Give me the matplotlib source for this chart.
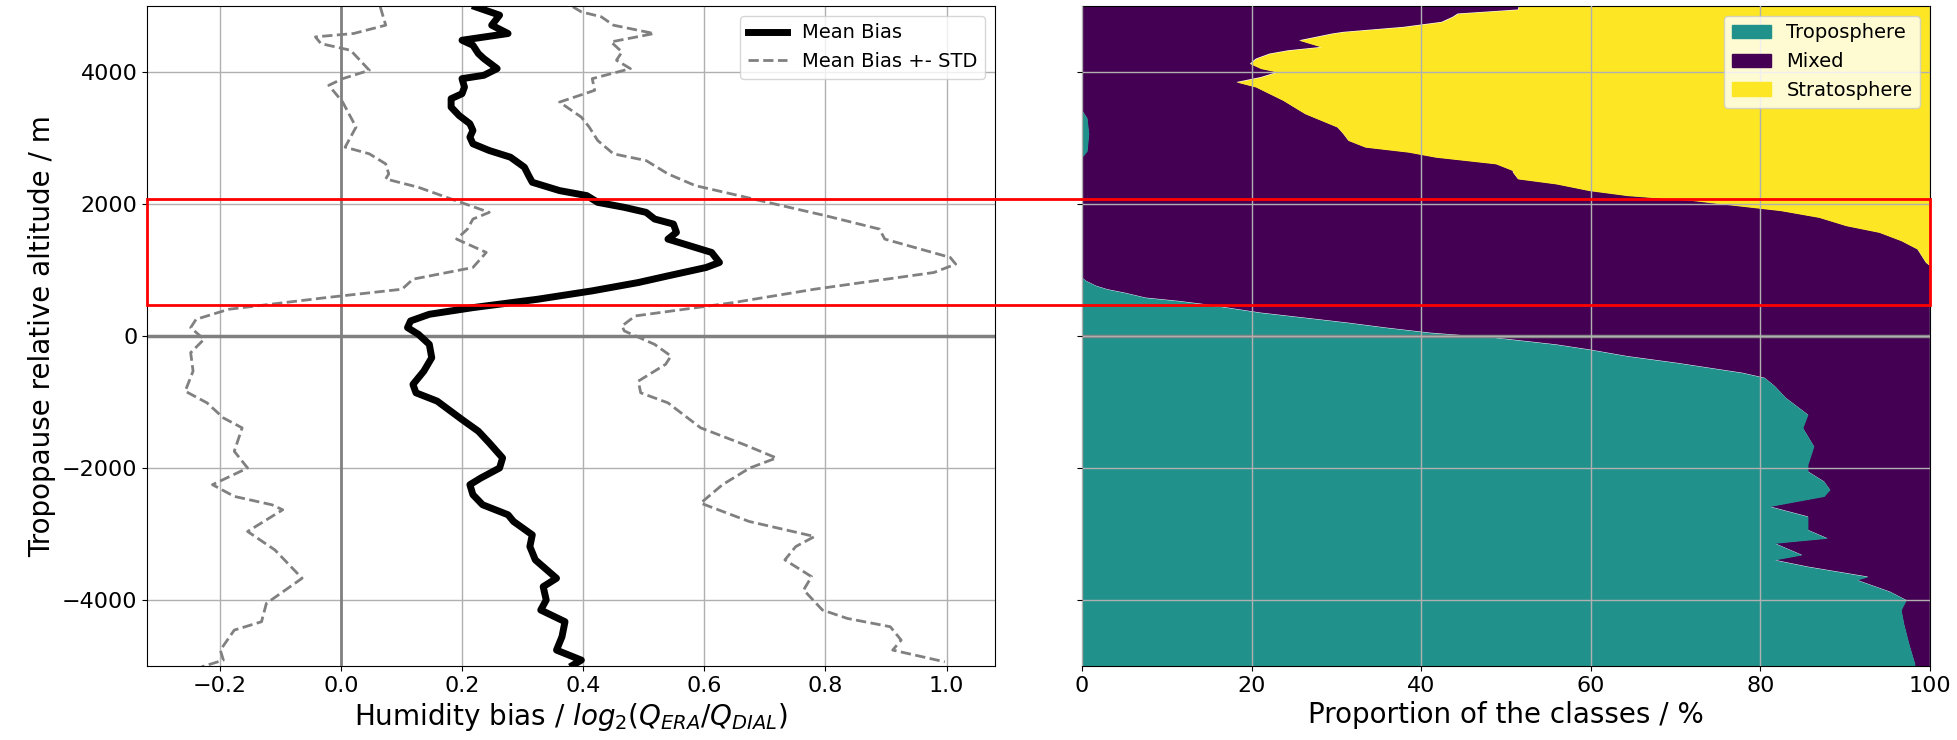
import numpy as np
import matplotlib
matplotlib.use('Agg')
import matplotlib.pyplot as plt
from matplotlib.patches import Rectangle, Patch
from matplotlib.transforms import blended_transform_factory

# mean humidity bias profile (altitude relative to tropopause, m)
mean_alt = [4988, 4861, 4709, 4583, 4481, 4405, 4279, 4203, 4051, 3950, 3899, 3772, 3671,
            3595, 3468, 3342, 3216, 3114, 3013, 2912, 2810, 2709, 2557, 2430, 2329, 2203,
            2127, 2025, 1949, 1873, 1772, 1696, 1570, 1468, 1367, 1266, 1114, 1038, 911,
            810, 684, 557, 430, 329, 228, 127, 25, -76, -127, -329, -532, -734, -861, -987,
            -1266, -1443, -1620, -1848, -2000, -2152, -2253, -2405, -2557, -2709, -2810,
            -3013, -3190, -3392, -3671, -3798, -4000, -4152, -4329, -4557, -4759, -4911, -4987]
mean_bias = [0.222, 0.262, 0.249, 0.276, 0.200, 0.218, 0.227, 0.236, 0.258, 0.236, 0.200,
             0.204, 0.200, 0.182, 0.182, 0.195, 0.213, 0.218, 0.213, 0.218, 0.245, 0.280,
             0.303, 0.310, 0.316, 0.361, 0.406, 0.424, 0.468, 0.504, 0.518, 0.549, 0.554,
             0.540, 0.576, 0.612, 0.625, 0.603, 0.540, 0.491, 0.415, 0.325, 0.218, 0.146,
             0.115, 0.110, 0.128, 0.140, 0.146, 0.150, 0.137, 0.119, 0.124, 0.159, 0.200,
             0.227, 0.245, 0.267, 0.262, 0.231, 0.213, 0.218, 0.234, 0.276, 0.285, 0.316,
             0.312, 0.321, 0.356, 0.334, 0.339, 0.330, 0.370, 0.365, 0.356, 0.397, 0.383]

# mean bias + STD
upper_alt = [4988, 4911, 4836, 4709, 4583, 4456, 4304, 4178, 4051, 3899, 3722, 3544, 3316,
             3165, 2962, 2760, 2658, 2456, 2279, 2127, 1975, 1823, 1620, 1468, 1190, 1089,
             962, 709, 506, 304, 152, 76, -127, -304, -430, -684, -861, -1013, -1392, -1646,
             -1848, -2000, -2253, -2532, -2810, -3038, -3190, -3392, -3646, -3848, -4152,
             -4279, -4405, -4608, -4759, -4937]
upper_bias = [0.383, 0.397, 0.430, 0.450, 0.517, 0.446, 0.464, 0.455, 0.478, 0.415, 0.419,
              0.361, 0.397, 0.410, 0.424, 0.450, 0.504, 0.540, 0.585, 0.657, 0.728, 0.800,
              0.889, 0.898, 1.006, 1.015, 0.979, 0.782, 0.648, 0.486, 0.464, 0.468, 0.518,
              0.545, 0.536, 0.491, 0.495, 0.540, 0.594, 0.666, 0.719, 0.675, 0.630, 0.594,
              0.674, 0.782, 0.751, 0.733, 0.777, 0.764, 0.795, 0.836, 0.907, 0.925, 0.911,
              0.997]

# mean bias - STD
lower_alt = [4988, 4709, 4583, 4532, 4430, 4329, 4026, 3899, 3798, 3544, 3165, 2861, 2760,
             2608, 2456, 2380, 2253, 2076, 1873, 1772, 1620, 1468, 1266, 1038, 861, 709, 582,
             405, 253, 127, -50, -253, -532, -836, -1013, -1241, -1392, -1747, -2000, -2253,
             -2430, -2557, -2633, -2962, -3241, -3671, -4051, -4329, -4456, -4759, -4911, -5013]
lower_bias = [0.065, 0.074, 0.021, -0.042, -0.033, 0.016, 0.047, 0.003, -0.020, 0.003, 0.025,
              0.007, 0.047, 0.074, 0.079, 0.074, 0.128, 0.182, 0.245, 0.218, 0.209, 0.191,
              0.240, 0.218, 0.119, 0.101, -0.024, -0.185, -0.239, -0.248, -0.226, -0.248,
              -0.244, -0.257, -0.221, -0.194, -0.163, -0.176, -0.154, -0.212, -0.176, -0.114,
              -0.096, -0.154, -0.109, -0.064, -0.123, -0.131, -0.176, -0.199, -0.194, -0.230]

# class proportions (%)
trop_alt = [5000, 3420, 3300, 3064, 2800, 2709, 886, 835, 760, 709, 658, 582, 532, 481, 430,
            354, 278, 202, 127, 50, -25, -127, -203, -304, -405, -557, -633, -760, -937,
            -1190, -1392, -1671, -1949, -2051, -2203, -2329, -2430, -2582, -2734, -2937,
            -3064, -3140, -3316, -3392, -3494, -3646, -3696, -3874, -4000, -4152, -4355,
            -4659, -4963, -5000]
trop_pct = [0.0, 0.0, 0.6, 0.8, 0.6, 0.0, 0.0, 0.5, 1.7, 3.0, 5.0, 7.5, 11.4, 14.6, 17.2,
            21.1, 26.3, 31.4, 35.9, 41.1, 48.8, 55.9, 59.8, 64.3, 70.1, 77.9, 80.5, 81.7,
            83.0, 85.6, 85.0, 86.3, 85.6, 85.6, 87.5, 88.2, 87.5, 81.1, 85.6, 85.6, 87.9,
            81.7, 84.9, 81.7, 85.6, 92.7, 91.4, 95.3, 97.2, 96.6, 96.9, 97.5, 98.2, 98.2]

strat_alt = [5000, 4947, 4886, 4836, 4760, 4684, 4608, 4583, 4481, 4380, 4329, 4279, 4203,
             4127, 4051, 4000, 3924, 3848, 3772, 3696, 3570, 3468, 3367, 3266, 3165, 3064,
             2962, 2861, 2785, 2709, 2608, 2506, 2481, 2380, 2304, 2203, 2127, 2051, 1975,
             1899, 1797, 1671, 1570, 1443, 1317, 1114, 1063, -5000]
strat_pct = [48.5, 48.6, 55.7, 56.3, 57.6, 62.1, 69.2, 70.5, 74.4, 71.8, 75.7, 77.9, 79.5,
             80.2, 78.9, 77.0, 78.9, 81.8, 79.5, 78.3, 76.3, 75.0, 73.7, 71.8, 69.9, 69.2,
             68.6, 66.6, 61.5, 58.3, 51.2, 49.2, 49.2, 48.6, 44.1, 40.2, 35.7, 27.9, 22.8,
             17.6, 13.1, 9.9, 6.0, 3.4, 1.5, 0.5, 0.0, 0.0]

c_trop = '#21918c'
c_mixed = '#440154'
c_strat = '#fde725'

fig = plt.figure(figsize=(19.58, 7.40), dpi=100)
ax1 = fig.add_axes([0.0751, 0.1, 0.4331, 0.8919])
ax2 = fig.add_axes([0.5526, 0.1, 0.4331, 0.8919], sharey=ax1)

# left panel: humidity bias
ax1.grid(True, color='#b0b0b0', lw=1)
ax1.axvline(0, color='gray', lw=2)
ax1.axhline(0, color='gray', lw=2.5)
ax1.plot(mean_bias, mean_alt, color='black', lw=5, label='Mean Bias')
ax1.plot(upper_bias, upper_alt, color='gray', ls='--', lw=2, label='Mean Bias +- STD')
ax1.plot(lower_bias, lower_alt, color='gray', ls='--', lw=2)
ax1.set_xlim(-0.32, 1.08)
ax1.set_ylim(-5000, 5000)
ax1.set_xticks(np.arange(-0.2, 1.01, 0.2))
ax1.set_yticks([-4000, -2000, 0, 2000, 4000])
ax1.set_xlabel('Humidity bias / $log_2(Q_{ERA}/Q_{DIAL})$', fontsize=20)
ax1.set_ylabel('Tropopause relative altitude / m', fontsize=20)
ax1.tick_params(labelsize=16)
ax1.legend(loc='upper right', fontsize=14)

# right panel: class proportions (mixed fills what is left between the two others)
mixed_x = np.r_[trop_pct, (100 - np.array(strat_pct))[::-1]]
mixed_y = np.r_[trop_alt, strat_alt[::-1]]
ax2.fill(mixed_x, mixed_y, color=c_mixed, lw=0, label='Mixed')
ax2.fill_betweenx(trop_alt, 0, trop_pct, color=c_trop, lw=0, label='Troposphere')
ax2.fill_betweenx(strat_alt, 100 - np.array(strat_pct), 100, color=c_strat, lw=0,
                  label='Stratosphere')
ax2.set_axisbelow(False)
ax2.grid(True, color='#b0b0b0', lw=1)
ax2.axhline(0, color='gray', lw=2.5)
ax2.set_xlim(0, 100)
ax2.set_xticks(np.arange(0, 101, 20))
ax2.tick_params(labelsize=16, labelleft=False)
ax2.set_xlabel('Proportion of the classes / %', fontsize=20)
handles = [Patch(color=c_trop, label='Troposphere'), Patch(color=c_mixed, label='Mixed'),
           Patch(color=c_strat, label='Stratosphere')]
ax2.legend(handles=handles, loc='upper right', fontsize=14)

# highlight box across both panels
p1 = ax1.get_position()
p2 = ax2.get_position()
trans = blended_transform_factory(fig.transFigure, ax1.transData)
fig.add_artist(Rectangle((p1.x0, 470), p2.x1 - p1.x0, 2070 - 470, transform=trans,
                         fill=False, edgecolor='red', lw=2, clip_on=False))

fig.savefig('out.png', dpi=100)
